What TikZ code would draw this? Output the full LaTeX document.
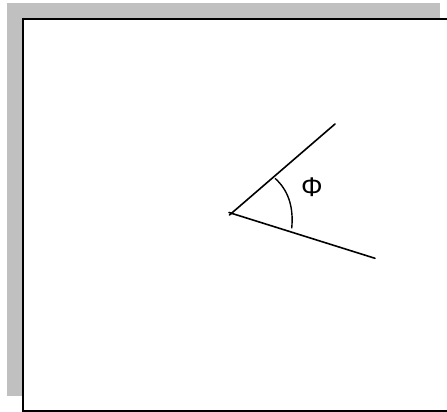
\documentclass[tikz,border=0pt]{standalone}
\usepackage{fontspec}
\setmainfont{Liberation Sans}
\begin{document}
\begin{tikzpicture}[x=1pt,y=-1pt,
  shadow/.style={fill={rgb,255:red,192;green,192;blue,192}, draw=none},
  frame/.style={draw=black, line width=2pt, fill=white},
  ray/.style={draw=black, line width=1.6pt, line cap=round},
  arcline/.style={draw=black, line width=1.4pt},
  lbl/.style={font=\fontsize{27}{30}\selectfont, inner sep=0pt}]
  \useasboundingbox (0,0) rectangle (447,412);
  \fill[shadow] (7,3) rectangle (440,395.5);
  \draw[frame] (22.5,19) rectangle (460,410.5);
  \coordinate (v) at (231.5,213.5);
  \coordinate (a) at (335,124);
  \coordinate (b) at (375,258.3);
  \coordinate (p) at (275,178.3);
  \coordinate (q) at (291.7,228.3);
  \coordinate (v1) at (229.5,215);
  \coordinate (v2) at (229,212.5);
  \draw[ray] (v1) -- (a);
  \draw[ray] (v2) -- (b);
  \draw[arcline] (p) .. controls (287,189) and (294,205) .. (q);
  \node[lbl] (phi) at (312,187.5) {Φ};
\end{tikzpicture}
\end{document}
